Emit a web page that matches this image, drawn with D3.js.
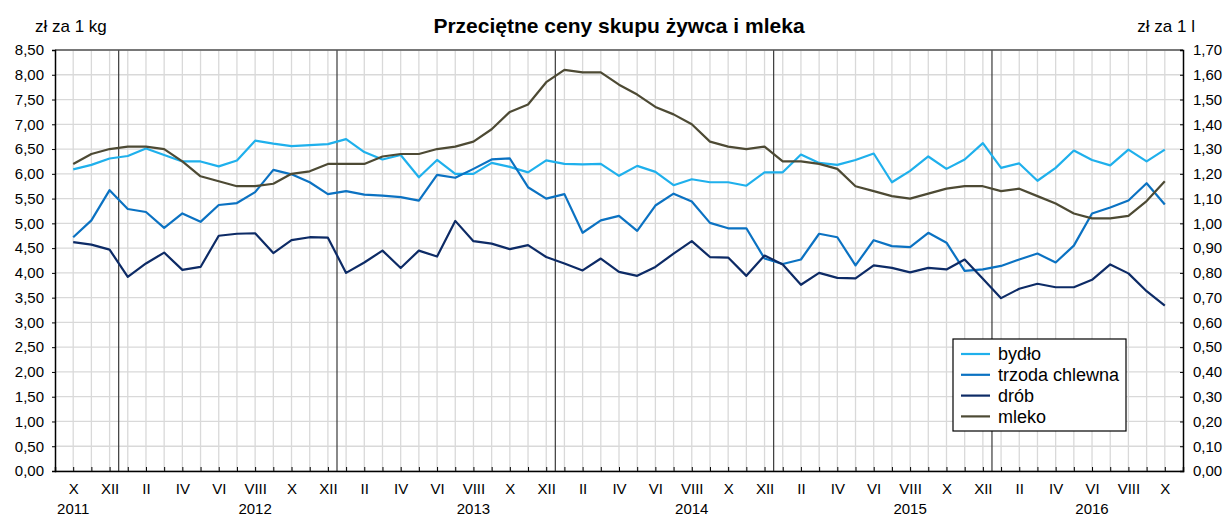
<!DOCTYPE html>
<html>
<head>
<meta charset="utf-8">
<script src="https://cdn.jsdelivr.net/npm/d3@7"></script>
<style>
  body { margin: 0; background: #fff; }
  text { font-family: "Liberation Sans", Arial, sans-serif; fill: #000; }
</style>
</head>
<body>
<div id="chart"></div>
<script>
const months = ["X","XI","XII",
  "I","II","III","IV","V","VI","VII","VIII","IX","X","XI","XII",
  "I","II","III","IV","V","VI","VII","VIII","IX","X","XI","XII",
  "I","II","III","IV","V","VI","VII","VIII","IX","X","XI","XII",
  "I","II","III","IV","V","VI","VII","VIII","IX","X","XI","XII",
  "I","II","III","IV","V","VI","VII","VIII","IX","X"];

const years = ["2011", "2012", "2013", "2014", "2015", "2016"];
const yearAt = [0, 10, 22, 34, 46, 56];
const yearBreaks = [2.5, 14.5, 26.5, 38.5, 50.5];

const bydlo = [6.09,6.18,6.31,6.36,6.51,6.38,6.25,6.25,6.15,6.27,6.67,6.61,6.56,6.58,6.60,
  6.70,6.44,6.29,6.38,5.93,6.28,6.00,6.00,6.22,6.14,6.03,6.27,6.20,6.19,6.20,
  5.96,6.16,6.04,5.77,5.89,5.83,5.83,5.76,6.03,6.03,6.39,6.22,6.18,6.28,6.41,
  5.83,6.06,6.35,6.10,6.29,6.62,6.12,6.21,5.86,6.12,6.47,6.28,6.17,6.49,6.25,6.49];

const trzoda = [4.72,5.06,5.67,5.29,5.23,4.91,5.20,5.03,5.37,5.41,5.63,6.08,5.99,5.83,5.59,
  5.65,5.58,5.56,5.53,5.46,5.98,5.92,6.10,6.29,6.31,5.73,5.50,5.59,4.81,5.06,
  5.15,4.85,5.36,5.60,5.44,5.01,4.90,4.90,4.29,4.18,4.27,4.79,4.72,4.15,4.66,
  4.54,4.52,4.81,4.61,4.04,4.07,4.14,4.27,4.39,4.21,4.55,5.20,5.32,5.46,5.81,5.38];

const drob = [4.62,4.57,4.47,3.92,4.19,4.41,4.06,4.12,4.75,4.79,4.80,4.40,4.66,4.72,4.71,
  4.00,4.21,4.45,4.10,4.45,4.33,5.05,4.64,4.59,4.48,4.56,4.32,4.19,4.05,4.29,
  4.02,3.94,4.12,4.39,4.64,4.32,4.31,3.94,4.35,4.17,3.76,4.00,3.90,3.89,4.15,
  4.10,4.01,4.10,4.07,4.27,3.88,3.49,3.68,3.78,3.71,3.71,3.86,4.17,3.99,3.63,3.34];

// mleko is read against the right axis (zł za 1 l)
const mleko = [1.24,1.28,1.30,1.31,1.31,1.30,1.25,1.19,1.17,1.15,1.15,1.16,1.20,1.21,1.24,
  1.24,1.24,1.27,1.28,1.28,1.30,1.31,1.33,1.38,1.45,1.48,1.57,1.62,1.61,1.61,
  1.56,1.52,1.47,1.44,1.40,1.33,1.31,1.30,1.31,1.25,1.25,1.24,1.22,1.15,1.13,
  1.11,1.10,1.12,1.14,1.15,1.15,1.13,1.14,1.11,1.08,1.04,1.02,1.02,1.03,1.09,1.17];

const seriesNames = ["bydło", "trzoda chlewna", "drób", "mleko"];
const seriesColors = ["#1fb0ec", "#0b72c2", "#0d2b66", "#4d4a34"];

const W = 1224, H = 518;
const pLeft = 55, pRight = 1183, pTop = 50, pBottom = 471;

const comma = d3.formatLocale({ decimal: ",", thousands: " ", grouping: [3], currency: ["", ""] }).format(".2f");

const x = d3.scaleLinear().domain([-1, months.length]).range([pLeft, pRight]);
const yL = d3.scaleLinear().domain([0, 8.5]).range([pBottom, pTop]);
const yR = d3.scaleLinear().domain([0, 1.7]).range([pBottom, pTop]);

const svg = d3.select("#chart").append("svg")
    .attr("width", W)
    .attr("height", H);

// grid
const idx = d3.range(months.length);
svg.append("g").selectAll("line")
    .data(idx)
    .enter().append("line")
    .attr("x1", d => x(d)).attr("x2", d => x(d))
    .attr("y1", pTop).attr("y2", pBottom)
    .attr("stroke", "#d9d9d9").attr("stroke-width", 1.3);

const yTicks = d3.range(0, 8.51, 0.5);
svg.append("g").selectAll("line")
    .data(yTicks)
    .enter().append("line")
    .attr("x1", pLeft).attr("x2", pRight)
    .attr("y1", d => yL(d)).attr("y2", d => yL(d))
    .attr("stroke", "#d9d9d9").attr("stroke-width", 1.3);

// year separators
svg.append("g").selectAll("line")
    .data(yearBreaks)
    .enter().append("line")
    .attr("x1", d => x(d)).attr("x2", d => x(d))
    .attr("y1", pTop).attr("y2", pBottom)
    .attr("stroke", "#3a3a3a").attr("stroke-width", 1.2);

// top frame
svg.append("line")
    .attr("x1", pLeft).attr("x2", pRight)
    .attr("y1", pTop).attr("y2", pTop)
    .attr("stroke", "#555").attr("stroke-width", 1.5);

// axes
const axisL = svg.append("g")
    .attr("transform", "translate(" + pLeft + ",0)")
    .call(d3.axisLeft(yL).tickValues(yTicks).tickFormat(comma).tickSize(3).tickPadding(8));

const axisR = svg.append("g")
    .attr("transform", "translate(" + pRight + ",0)")
    .call(d3.axisRight(yR).tickValues(d3.range(0, 1.701, 0.1)).tickFormat(comma).tickSize(-3).tickPadding(10));

const axisB = svg.append("g")
    .attr("transform", "translate(0," + pBottom + ")")
    .call(d3.axisBottom(x).tickValues(idx).tickSize(-4)
        .tickFormat(d => d % 2 === 0 ? months[d] : ""));

[axisL, axisR, axisB].forEach(a => {
    a.select(".domain").attr("stroke", "#000").attr("stroke-width", 1.5);
    a.selectAll(".tick line").attr("stroke", "#000");
    a.selectAll("text").style("font-size", "15px").attr("fill", "#000");
});
axisB.selectAll("text").attr("dy", "0").attr("y", 23);

// year labels
svg.append("g").selectAll("text")
    .data(years)
    .enter().append("text")
    .attr("x", (d, i) => x(yearAt[i]))
    .attr("y", 514)
    .attr("text-anchor", "middle")
    .style("font-size", "15px")
    .text(d => d);

// lines
const allSeries = [bydlo, trzoda, drob, mleko];
allSeries.forEach((s, k) => {
    const yS = k === 3 ? yR : yL;
    const line = d3.line()
        .x((d, i) => x(i))
        .y(d => yS(d));
    svg.append("path")
        .datum(s)
        .attr("fill", "none")
        .attr("stroke", seriesColors[k])
        .attr("stroke-width", 2.2)
        .attr("stroke-linejoin", "round")
        .attr("d", line);
});

// titles
svg.append("text")
    .attr("x", 619).attr("y", 33)
    .attr("text-anchor", "middle")
    .style("font-size", "21px").style("font-weight", "bold")
    .text("Przeciętne ceny skupu żywca i mleka");

svg.append("text")
    .attr("x", 35).attr("y", 32)
    .style("font-size", "17px")
    .text("zł za 1 kg");

svg.append("text")
    .attr("x", 1195).attr("y", 32)
    .attr("text-anchor", "end")
    .style("font-size", "17px")
    .text("zł za 1 l");

// legend
const legend = svg.append("g").attr("transform", "translate(953,339)");
legend.append("rect")
    .attr("width", 173).attr("height", 92)
    .attr("fill", "#fff").attr("stroke", "#000").attr("stroke-width", 1.2);

const rows = legend.selectAll("g.row")
    .data(seriesNames)
    .enter().append("g")
    .attr("class", "row")
    .attr("transform", (d, i) => "translate(0," + (15 + i * 20.8) + ")");

rows.append("line")
    .attr("x1", 8).attr("x2", 37)
    .attr("stroke", (d, i) => seriesColors[i])
    .attr("stroke-width", 2.2);

rows.append("text")
    .attr("x", 45).attr("dy", "0.35em")
    .style("font-size", "18px")
    .text(d => d);
</script>
</body>
</html>
